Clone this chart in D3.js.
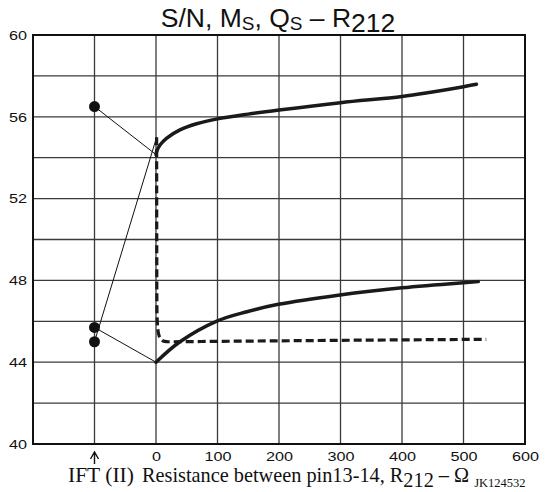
<!DOCTYPE html>
<html>
<head>
<meta charset="utf-8">
<script src="https://cdn.jsdelivr.net/npm/d3@7"></script>
<style>
  html, body { margin: 0; padding: 0; background: #fff; }
  svg { display: block; }
</style>
</head>
<body>
<script>
// Resistance R212 (ohms) and level (dB) for each characteristic
const upperR = [0, 1, 6.5, 17, 39, 66, 100, 150, 200, 300, 400, 447, 500, 521];
const upperV = [54.15, 54.3, 54.62, 54.95, 55.36, 55.66, 55.9, 56.13, 56.33, 56.69, 56.99, 57.2, 57.47, 57.59];

const lowerR = [0, 39, 99, 148, 199, 299, 400, 500, 524];
const lowerV = [44.0, 45.0, 46.01, 46.47, 46.83, 47.29, 47.64, 47.89, 47.94];

const dashR = [1, 1.5, 3, 5, 9, 14, 20, 100, 300, 537];
const dashV = [55.0, 46.5, 45.6, 45.3, 45.1, 45.02, 45.0, 45.02, 45.07, 45.12];

// Values with the IFT (II) coil in place of R212
const iftR = -100;
const iftV = [56.5, 45.7, 45.0];

// Which IFT dot is joined to the start of which curve
const linkDot = [0, 2, 1];
const linkTo = ["upper", "dash", "lower"];

// Axis ticks and grid
const xTicks = [0, 100, 200, 300, 400, 500, 600];
const yTicks = [40, 44, 48, 52, 56, 60];
const xGrid = [-100, 0, 100, 200, 300, 400, 500];
const yGrid = [42, 44, 46, 48, 50, 52, 54, 56, 58];

const W = 553, H = 492;
const svg = d3.select("body").append("svg").attr("width", W).attr("height", H);

const x = d3.scaleLinear().domain([-200, 600]).range([33, 525]);
const y = d3.scaleLinear().domain([40, 60]).range([444, 35]);

const sans = "'Liberation Sans', Arial, Helvetica, sans-serif";
const serif = "'Liberation Serif', 'Times New Roman', Times, serif";

// grid
const grid = svg.append("g").attr("stroke", "#3a3a3a").attr("stroke-width", 1.3);
grid.selectAll("line.v").data(xGrid).join("line").attr("class", "v")
  .attr("x1", d => x(d)).attr("x2", d => x(d))
  .attr("y1", y(60)).attr("y2", y(40));
grid.selectAll("line.h").data(yGrid).join("line").attr("class", "h")
  .attr("x1", x(-200)).attr("x2", x(600))
  .attr("y1", d => y(d)).attr("y2", d => y(d));

// frame
svg.append("rect")
  .attr("x", x(-200)).attr("y", y(60))
  .attr("width", x(600) - x(-200)).attr("height", y(40) - y(60))
  .attr("fill", "none").attr("stroke", "#111").attr("stroke-width", 2);

// axes (labels only)
const xAxis = svg.append("g").attr("transform", `translate(0,${y(40)})`)
  .call(d3.axisBottom(x).tickValues(xTicks).tickSize(0).tickPadding(7).tickFormat(d3.format("d")));
const yAxis = svg.append("g").attr("transform", `translate(${x(-200)},0)`)
  .call(d3.axisLeft(y).tickValues(yTicks).tickSize(0).tickPadding(5).tickFormat(d3.format("d")));
[xAxis, yAxis].forEach(g => {
  g.select(".domain").remove();
  g.selectAll("text")
    .attr("font-family", sans).attr("font-size", 13.5).attr("fill", "#111")
    .attr("transform", "scale(1.2,1)");
});

// curves
const pts = (rs, vs) => rs.map((r, i) => [r, vs[i]]);
const smooth = d3.line().x(d => x(d[0])).y(d => y(d[1])).curve(d3.curveCatmullRom.alpha(0.5));
const mono = d3.line().x(d => x(d[0])).y(d => y(d[1])).curve(d3.curveMonotoneX);
const series = {
  upper: pts(upperR, upperV),
  lower: pts(lowerR, lowerV),
  dash: pts(dashR, dashV)
};

// thin connectors from IFT dots
svg.append("g").selectAll("line").data(linkDot).join("line")
  .attr("x1", x(iftR)).attr("y1", (d) => y(iftV[d]))
  .attr("x2", (d, i) => x(series[linkTo[i]][0][0]))
  .attr("y2", (d, i) => y(series[linkTo[i]][0][1]))
  .attr("stroke", "#111").attr("stroke-width", 1);

svg.append("path").attr("d", smooth(series.upper))
  .attr("fill", "none").attr("stroke", "#1a1a1a").attr("stroke-width", 3.5).attr("stroke-linecap", "round");
svg.append("path").attr("d", smooth(series.lower))
  .attr("fill", "none").attr("stroke", "#1a1a1a").attr("stroke-width", 3.5).attr("stroke-linecap", "round");
svg.append("path").attr("d", mono(series.dash))
  .attr("fill", "none").attr("stroke", "#1a1a1a").attr("stroke-width", 3.2)
  .attr("stroke-dasharray", "8,4");

// IFT dots
svg.append("g").selectAll("circle").data(iftV).join("circle")
  .attr("cx", x(iftR)).attr("cy", d => y(d)).attr("r", 5.5).attr("fill", "#111");

// arrow under IFT position
const ax = x(iftR), ay = y(40);
svg.append("path")
  .attr("d", `M${ax},${ay + 20}V${ay + 8}M${ax - 4},${ay + 15}L${ax},${ay + 8}L${ax + 4},${ay + 15}`)
  .attr("fill", "none").attr("stroke", "#111").attr("stroke-width", 1.4);

// title
const title = svg.append("text").attr("x", 278).attr("y", 27)
  .attr("text-anchor", "middle").attr("font-family", sans).attr("font-size", 26.5).attr("fill", "#111");
title.append("tspan").text("S/N, M");
title.append("tspan").attr("font-size", 19).attr("dy", 3).text("S");
title.append("tspan").attr("dy", -3).text(", Q");
title.append("tspan").attr("font-size", 19).attr("dy", 3).text("S");
title.append("tspan").attr("dy", -3).text(" \u2013 R");
title.append("tspan").attr("dy", 5).text("212");

// x axis caption
svg.append("text").attr("x", 68).attr("y", 482)
  .attr("font-family", serif).attr("font-size", 21.5).attr("fill", "#111").text("IFT (II)");
const cap = svg.append("text").attr("x", 142).attr("y", 482)
  .attr("font-family", serif).attr("font-size", 20.3).attr("fill", "#111");
cap.append("tspan").text("Resistance between pin13-14, R");
cap.append("tspan").attr("dy", 5).text("212");
cap.append("tspan").attr("dy", -5).text(" \u2013 \u03A9 ");
cap.append("tspan").attr("dy", 5).attr("font-size", 12.5).text("JK124532");
</script>
</body>
</html>
